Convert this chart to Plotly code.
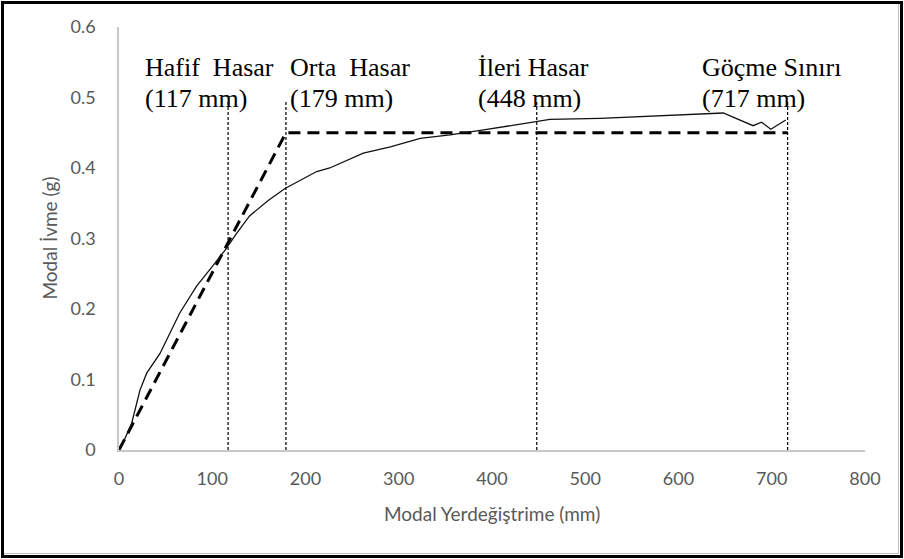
import plotly.graph_objects as go

# Capacity curve (modal displacement in mm, modal acceleration in g)
disp_mm = [0, 5, 13.6, 22.5, 29.7, 44, 65, 83, 101, 114, 125, 140, 160, 178,
           212, 226, 262, 291, 323, 355, 391, 448, 462, 516, 648, 680, 689,
           699, 715]
accel_g = [0, 0.012, 0.038, 0.085, 0.109, 0.137, 0.194, 0.232, 0.262, 0.284,
           0.305, 0.332, 0.354, 0.371, 0.395, 0.400, 0.421, 0.430, 0.442,
           0.447, 0.454, 0.466, 0.469, 0.4705, 0.478, 0.460, 0.465, 0.455,
           0.468]

# Bilinear idealisation
bilin_x = [0, 179, 717]
bilin_y = [0, 0.45, 0.45]

# Performance levels
levels = ["Hafif  Hasar", "Orta  Hasar", "İleri Hasar", "Göçme Sınırı"]
level_mm = [117, 179, 448, 717]
marker_top_g = 0.495

x_ticks = [0, 100, 200, 300, 400, 500, 600, 700, 800]
y_ticks = [0, 0.1, 0.2, 0.3, 0.4, 0.5, 0.6]
y_ticktext = ["0", "0.1", "0.2", "0.3", "0.4", "0.5", "0.6"]

x_title = "Modal Yerdeğiştrime (mm)"
y_title = "Modal İvme (g)"

# Layout geometry (pixels)
W, H = 904, 559
ML, MR, MT, MB = 119, 39, 27, 109
PW, PH = W - ML - MR, H - MT - MB
label_left_mm = [26, 181, 383, 623]

def px_to_paper_x(px):
    return (px - ML) / PW

def py_to_paper_y(py):
    return (H - MB - py) / PH

fig = go.Figure()

for xv in level_mm:
    fig.add_trace(go.Scatter(
        x=[xv, xv], y=[0, marker_top_g], mode="lines",
        line=dict(color="black", width=1.2, dash="3px,2px"),
        hoverinfo="skip", showlegend=False))

fig.add_trace(go.Scatter(
    x=bilin_x, y=bilin_y, mode="lines",
    line=dict(color="black", width=3, dash="12px,7px"),
    showlegend=False))

fig.add_trace(go.Scatter(
    x=disp_mm, y=accel_g, mode="lines",
    line=dict(color="#111111", width=1.3),
    showlegend=False))

serif = dict(family="Liberation Serif, Times New Roman, serif", size=26, color="black")
for name, mm, lx in zip(levels, level_mm, label_left_mm):
    fig.add_annotation(x=lx, y=0.543, xref="x", yref="y", text=name,
                       showarrow=False, xanchor="left", yanchor="middle", font=serif)
    fig.add_annotation(x=lx, y=0.498, xref="x", yref="y", text=f"({mm} mm)",
                       showarrow=False, xanchor="left", yanchor="middle", font=serif)

sans = dict(family="Lato, Open Sans, sans-serif", size=18, color="#595959")
title_font = dict(family=sans["family"], size=19, color="#595959")
fig.add_annotation(x=0.5, y=py_to_paper_y(513), xref="paper", yref="paper",
                   text=x_title, showarrow=False, font=title_font,
                   xanchor="center", yanchor="middle")
fig.add_annotation(x=px_to_paper_x(49), y=0.5, xref="paper", yref="paper",
                   text=y_title, showarrow=False, textangle=-90, font=title_font,
                   xanchor="center", yanchor="middle")

# Outer frame
fig.add_shape(type="rect", xref="paper", yref="paper",
              x0=px_to_paper_x(2.5), x1=px_to_paper_x(901.5),
              y0=py_to_paper_y(556.5), y1=py_to_paper_y(2.5),
              line=dict(color="black", width=3), layer="above")
fig.add_shape(type="line", xref="paper", yref="paper",
              x0=px_to_paper_x(4), x1=px_to_paper_x(899),
              y0=py_to_paper_y(553.5), y1=py_to_paper_y(553.5),
              line=dict(color="#c0c0c0", width=1))
fig.add_shape(type="line", xref="paper", yref="paper",
              x0=px_to_paper_x(898.5), x1=px_to_paper_x(898.5),
              y0=py_to_paper_y(554), y1=py_to_paper_y(4),
              line=dict(color="#c0c0c0", width=1))

fig.update_layout(
    width=W, height=H,
    margin=dict(l=ML, r=MR, t=MT, b=MB),
    paper_bgcolor="white", plot_bgcolor="white",
    showlegend=False,
    xaxis=dict(range=[0, 800], tickvals=x_ticks, showgrid=False, zeroline=False,
               showline=True, linecolor="#c8c8c8", linewidth=1.5,
               ticks="", tickfont=sans, ticklabelstandoff=12, fixedrange=True),
    yaxis=dict(range=[0, 0.6], tickvals=y_ticks, ticktext=y_ticktext,
               showgrid=False, zeroline=False,
               showline=True, linecolor="#c8c8c8", linewidth=1.5,
               ticks="", tickfont=sans, ticklabelstandoff=18, fixedrange=True),
)

fig.write_html("out.html")
